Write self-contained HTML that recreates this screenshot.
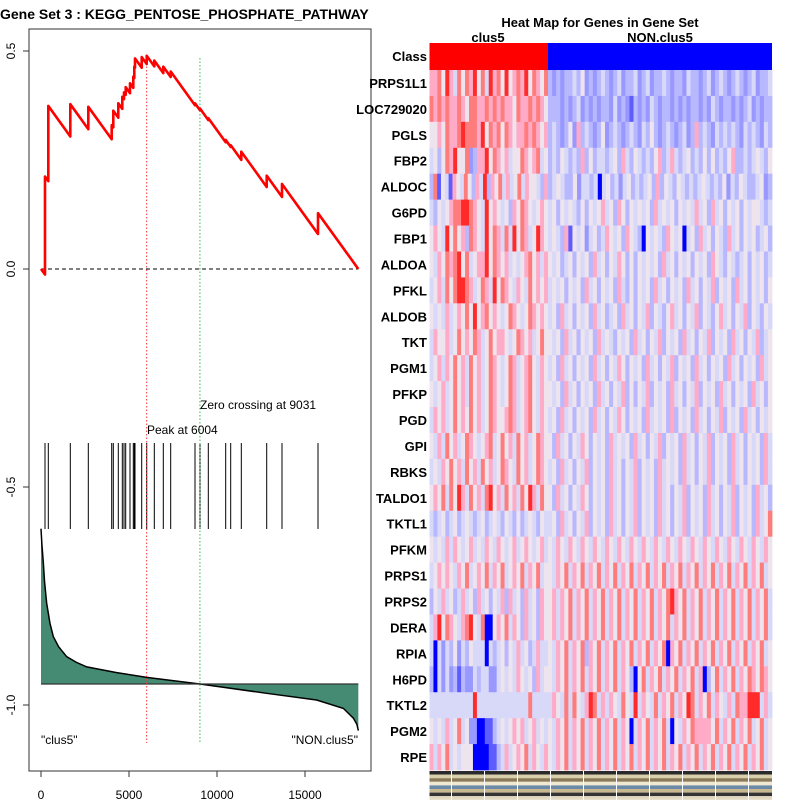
<!DOCTYPE html>
<html><head><meta charset="utf-8"><style>
body{margin:0;background:#fff;width:800px;height:800px;overflow:hidden}
svg{font-family:"Liberation Sans",sans-serif}
</style></head><body>
<svg id="chart" width="800" height="800" viewBox="0 0 800 800">
<text x="0" y="19" font-size="14" font-weight="bold">Gene Set  3 : KEGG_PENTOSE_PHOSPHATE_PATHWAY</text>
<rect x="29" y="29" width="342" height="742" fill="none" stroke="#555" stroke-width="1.2"/>
<g id="left"></g>
<text x="600" y="27" font-size="13" font-weight="bold" text-anchor="middle">Heat Map for Genes in Gene Set</text>
<text x="488" y="42" font-size="13" font-weight="bold" text-anchor="middle">clus5</text>
<text x="660" y="42" font-size="13" font-weight="bold" text-anchor="middle">NON.clus5</text>
<g id="heat"></g>
</svg>
<script>
const hitRanks=[227,415,1665,2688,4017,4108,4392,4619,4716,4812,5057,5244,5301,5341,5722,6006,6438,6949,7369,8750,9034,9506,10494,10778,11381,12824,13693,15739];
const esAfter=[0.212,0.374,0.378,0.372,0.330,0.363,0.380,0.395,0.405,0.417,0.426,0.441,0.464,0.483,0.486,0.489,0.478,0.464,0.453,0.380,0.368,0.346,0.296,0.284,0.269,0.214,0.195,0.128];
const totalRanks=18030;
const missSlope=0.000056;
const metricRanks=[0,50,133,200,322,511,700,1000,1460,2000,2600,3300,4300,6000,9031,12820,15660,17180,17750,17950,18030];
const metricVals=[1.0,0.9,0.78,0.66,0.52,0.39,0.305,0.24,0.176,0.14,0.11,0.095,0.073,0.043,0,-0.06,-0.103,-0.157,-0.22,-0.26,-0.3];
const peakRank=6004, zeroRank=9031;
const xTicks=[0,5000,10000,15000];
const yTicks=[0.5,0.0,-0.5,-1.0];
const yTickLabels=["0.5","0.0","-0.5","-1.0"];
const genes=["PRPS1L1","LOC729020","PGLS","FBP2","ALDOC","G6PD","FBP1","ALDOA","PFKL","ALDOB","TKT","PGM1","PFKP","PGD","GPI","RBKS","TALDO1","TKTL1","PFKM","PRPS1","PRPS2","DERA","RPIA","H6PD","TKTL2","PGM2","RPE"];
const heatRows=[
"667586475768574867585676857657|3232334352323432342334234233432332433234234323432342334",
"767676676577667676766576676765|3332323423232332423213232432332323233232432332323423233",
"556576678777685767576566767656|3432352634323523432343243532343234236343243434324343243",
"453576855723668576564557656745|3435434363534434536435434356346434534353534356334345435",
"3715416547536483657464574655436|345433524434045342453434536354354343454343524354334523",
"435456778876548565453657654565|4535454353545645365354545364545354546453645354535455434",
"565485756376548576474857645865|4543615452453465453654305454365450453645354364535453453",
"546576785745668576564545675646|5453453545364535465353545453645354535453654354345354534",
"456475788764576485765465475656|4545354536453545364353545364535453645354635453645354535",
"545464565758567565457654576565|4536453545364534536453546354356453546354356453546354354",
"465564575657645756654576564575|5453645354536454354536453546354536453546354536453546345",
"456465756475645765457645675465|4536453545364535465354536453546354536453545364535453645",
"545645756475645765457645675465|5453645354536453546353546354536453546354536453545364535",
"465645756575645765567645675465|4536453545364535465354536454536354536453546354536453545",
"546475645765456745756475645765|5364535465354536454536453546354536453546354536453545364",
"454657564756475645765475645765|4536453546354536453546354536454536453546354536453545364",
"565747586475647856475647586475|5364535465354536453546354536453546354536453546354536453",
"434534534543453454354353454354|4536453546354536453546354536453546354536453546354536457",
"545464654564546546545645654564|5465465465465465465465465465465465465465465465465465465",
"456565465745657465745657465745|5465746574657465746574657465746574657465746574657465745",
"354645346453645354636453645365|5646574657465746574657465746578657465746574657465746574",
"468576546785470056574653645365|5646574657465746574657465746574657465746574657465746574",
"404243524354440434535464534644|5465746573657465746574657465706574657465746574657465745",
"304242313224344224545465453645|5465746574657465746530574657465746574603574657465765765",
"444444444448444444444444474444|4654747546874646547548465474657465874657465464766888464",
"545464574522001134545656456454|5465746574657465746504657465740546576666574657465745745",
"646574545550000113464565746546|5465746574657465746574657465746574657465746574657465745"];
const palette=["#0000ff","#5c5cff","#9898ff","#b8b8ff","#d8d8f8","#eee4ee","#ffaac6","#ff7c7c","#ff2a2a"];

const NS="http://www.w3.org/2000/svg";
function mk(tag,attrs,parent){const e=document.createElementNS(NS,tag);for(const k in attrs)e.setAttribute(k,attrs[k]);parent.appendChild(e);return e;}
const xs=r=>41+r*0.0176;
const ys=v=>269-v*436;
const L=document.getElementById('left');

const baseY=684, mScale=155.3;
let pts=metricRanks.map((r,i)=>xs(r)+","+(baseY-metricVals[i]*mScale));
let poly=mk('polygon',{points:xs(0)+","+baseY+" "+pts.join(" ")+" "+xs(totalRanks)+","+baseY,fill:"#458B74"},L);


let ml=mk('polyline',{points:pts.join(" "),fill:"none",stroke:"#000","stroke-width":1.5},L);


let bl=mk('line',{x1:xs(0),x2:xs(totalRanks),y1:baseY,y2:baseY,stroke:"#333","stroke-width":1.3},L);



hitRanks.forEach(r=>{
 const h=mk('line',{x1:xs(r),x2:xs(r),y1:443,y2:529,stroke:"#000","stroke-width":1},L);
 
 
});

let zl=mk('line',{x1:xs(0),x2:xs(totalRanks),y1:ys(0),y2:ys(0),stroke:"#000","stroke-dasharray":"4,3","stroke-width":1},L);



let pl=mk('line',{x1:xs(peakRank),x2:xs(peakRank),y1:56,y2:743,stroke:"#ff3333","stroke-dasharray":"1.5,2","stroke-width":1},L);


let gline=mk('line',{x1:xs(zeroRank),x2:xs(zeroRank),y1:58,y2:743,stroke:"#33bb55","stroke-dasharray":"1.5,2","stroke-width":1},L);



let es=[[0,0]];let prevR=0,prevV=0;
hitRanks.forEach((r,i)=>{const b=prevV-missSlope*(r-prevR);es.push([r,b]);es.push([r,esAfter[i]]);prevR=r;prevV=esAfter[i];});
es.push([totalRanks,0]);
let ec=mk('polyline',{points:es.map(p=>xs(p[0])+","+ys(p[1])).join(" "),fill:"none",stroke:"#ff0000","stroke-width":2.6,"stroke-linejoin":"round"},L);



let t1=mk('text',{x:200,y:409,"font-size":12},L);t1.textContent="Zero crossing at "+zeroRank;


let t2=mk('text',{x:147,y:434,"font-size":12},L);t2.textContent="Peak at "+peakRank;


let t3=mk('text',{x:41,y:744,"font-size":12},L);t3.textContent='"clus5"';


let t4=mk('text',{x:358,y:744,"font-size":12,"text-anchor":"end"},L);t4.textContent='"NON.clus5"';



xTicks.forEach(v=>{
 const tk=mk('line',{x1:xs(v),x2:xs(v),y1:771,y2:777,stroke:"#333"},L);
 
 
 const tl=mk('text',{x:xs(v),y:799,"font-size":12,"text-anchor":"middle"},L);tl.textContent=String(v);
 
 
});
yTicks.forEach((v,i)=>{
 const tk=mk('line',{x1:23,x2:29,y1:ys(v),y2:ys(v),stroke:"#333"},L);
 
 
 const tl=mk('text',{x:15,y:ys(v),"font-size":12,"text-anchor":"middle",transform:"rotate(-90 15 "+ys(v)+")"},L);tl.textContent=yTickLabels[i];
 
 
});

const H=document.getElementById('heat');
const hx0=429.5,hsplit=548,hx1=772,hTop=70,rowH=700/genes.length;
let cr=mk('rect',{x:hx0,y:43,width:hsplit-hx0,height:27,fill:"#ff0000"},H);


let cb=mk('rect',{x:hsplit,y:43,width:hx1-hsplit,height:27,fill:"#0000ff"},H);


let cl=mk('text',{x:427,y:61,"font-size":13,"font-weight":"bold","text-anchor":"end"},H);cl.textContent="Class";


heatRows.forEach((row,ri)=>{
 const y=hTop+ri*rowH;
 const parts=row.split("|");
 [[parts[0],hx0,hsplit],[parts[1],hsplit,hx1]].forEach(([s,a,b])=>{
  const w=(b-a)/s.length;
  for(let i=0;i<s.length;i++){
   const c=mk('rect',{x:a+i*w,y:y,width:w+0.4,height:rowH+0.4,fill:palette[+s[i]]},H);
   
   
  }
 });
 const glab=mk('text',{x:427,y:y+rowH/2+5,"font-size":13,"font-weight":"bold","text-anchor":"end"},H);glab.textContent=genes[ri];
 
 
});
const stripCols=["#2a2a2a","#d9cfa8","#8a7a5a","#f0e8d0","#6a8aa8","#c8b890","#333","#e0d8c0"];
stripCols.forEach((c,i)=>{
 const s=mk('rect',{x:hx0,y:771+i*3.6,width:hx1-hx0,height:3.6,fill:c},H);
 
 
});
for(let x=hx0+22;x<hx1;x+=33){
 const s=mk('line',{x1:x,x2:x,y1:771,y2:800,stroke:"#fff","stroke-width":1},H);
 
 
}
</script>
</body></html>
